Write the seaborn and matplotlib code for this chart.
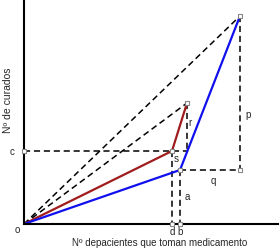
import pandas as pd
import seaborn as sns
import matplotlib.pyplot as plt

# key points of the diagram (x = patients, y = cured)
point_names = ['o', 's', 'k', 'mid', 'top', 'q']
point_x = [0, 148, 156, 163, 216, 216]
point_y = [0, 73, 54, 121, 208, 54]
pts = dict(zip(point_names, zip(point_x, point_y)))

# solid series
red_path = ['o', 's', 'mid']
blue_path = ['o', 'k', 'top']

# dashed guide lines
dashed_segments = [
    ('o', 'top'), ('o', 'mid'),
    ('mid', 'mid_c'), ('top', 'q'), ('k', 'q'),
    ('s', 's_axis'), ('k', 'k_axis'), ('c_axis', 'mid_c'),
]
pts['mid_c'] = (pts['mid'][0], pts['s'][1])
pts['s_axis'] = (pts['s'][0], 0)
pts['k_axis'] = (pts['k'][0], 0)
pts['c_axis'] = (0, pts['s'][1])

marker_pts = ['top', 'mid', 's', 'k', 'q', 's_axis', 'k_axis', 'c_axis']


def path_df(names):
    return pd.DataFrame({'x': [pts[n][0] for n in names],
                         'y': [pts[n][1] for n in names]})


sns.set_style('white')
plt.rcParams['font.family'] = ['Liberation Sans', 'DejaVu Sans']

fig = plt.figure(figsize=(2.8, 2.53), dpi=100)
ax = fig.add_axes([24 / 280, 28 / 253, 254 / 280, 225 / 253])

for a, b in dashed_segments:
    sns.lineplot(data=path_df([a, b]), x='x', y='y', sort=False,
                 estimator=None, ax=ax,
                 color='black', lw=1.1, linestyle=(0, (4, 2.5)))

sns.lineplot(data=path_df(red_path), x='x', y='y', sort=False,
             estimator=None, ax=ax, color='#a01c1c', lw=1.6)
sns.lineplot(data=path_df(blue_path), x='x', y='y', sort=False,
             estimator=None, ax=ax, color='#1010ee', lw=1.6)

mk = path_df(marker_pts)
ax.scatter(mk['x'], mk['y'], marker='s', s=9, facecolor='white',
           edgecolor='#888888', linewidth=0.8, zorder=5, clip_on=False)

ax.set_xlim(0, 254)
ax.set_ylim(0, 225)
ax.set_xticks([])
ax.set_yticks([])
ax.set_xlabel('')
ax.set_ylabel('')
for side in ['top', 'right']:
    ax.spines[side].set_visible(False)
for side in ['left', 'bottom']:
    ax.spines[side].set_color('black')
    ax.spines[side].set_linewidth(1.5)

fs = 7
ax.text(-7, -5, 'o', fontsize=fs, ha='center', va='center', clip_on=False)
ax.text(-12, 73, 'c', fontsize=fs, ha='center', va='center', clip_on=False)
ax.text(148, -7, 'd', fontsize=fs, ha='center', va='center', clip_on=False)
ax.text(156, -7, 'b', fontsize=fs, ha='center', va='center', clip_on=False)
ax.text(152, 66, 's', fontsize=fs, ha='center', va='center')
ax.text(166, 102, 'r', fontsize=fs, ha='center', va='center')
ax.text(224, 110, 'p', fontsize=fs, ha='center', va='center')
ax.text(189, 44, 'q', fontsize=fs, ha='center', va='center')
ax.text(163, 28, 'a', fontsize=fs, ha='center', va='center')
ax.text(-16, 125, 'Nº de curados', fontsize=7.5, rotation=90,
        ha='center', va='center', clip_on=False)
ax.text(136, -18, 'Nº depacientes que toman medicamento', fontsize=fs,
        ha='center', va='center', clip_on=False)

plt.savefig('out.png', dpi=100)
